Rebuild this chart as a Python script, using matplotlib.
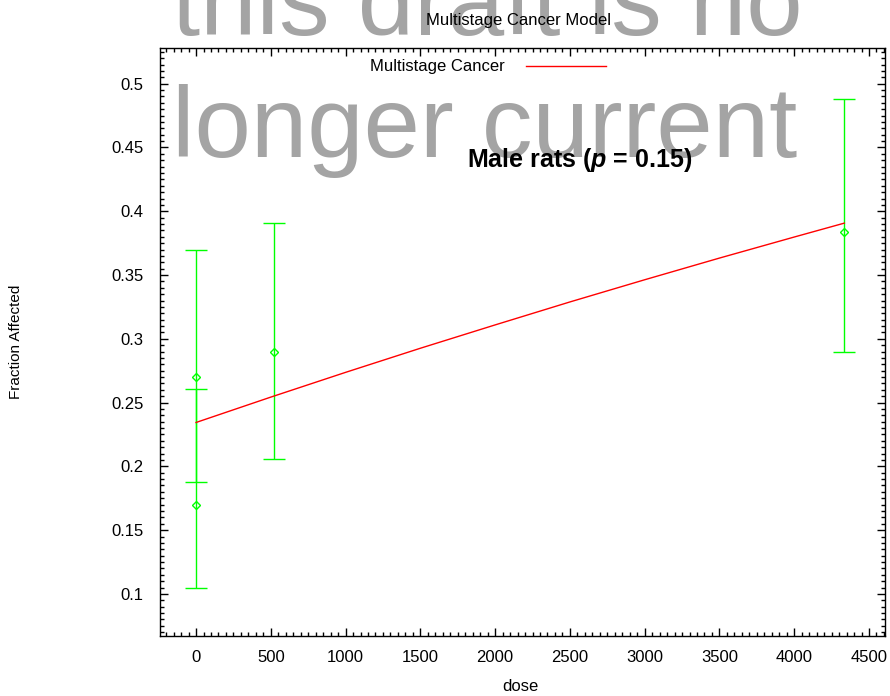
import matplotlib
matplotlib.use("Agg")
import matplotlib.pyplot as plt
from matplotlib.lines import Line2D
from matplotlib.ticker import MultipleLocator

# ---- data ----
dose = [0, 0, 519, 4335]
frac = [0.270, 0.170, 0.290, 0.384]
err_low = [0.188, 0.105, 0.206, 0.290]
err_high = [0.370, 0.261, 0.391, 0.488]

model_dose = [0, 500, 1000, 1500, 2000, 2500, 3000, 3500, 4000, 4335]
model_frac = [0.2344, 0.2543, 0.2737, 0.2926, 0.3109, 0.3289, 0.3463, 0.3633, 0.3798, 0.3907]

x_ticks = [0, 500, 1000, 1500, 2000, 2500, 3000, 3500, 4000, 4500]
y_ticks = [0.1, 0.15, 0.2, 0.25, 0.3, 0.35, 0.4, 0.45, 0.5]

title = "Multistage Cancer Model"
legend_label = "Multistage Cancer"
note = "Male rats ($p$ = 0.15)"
watermark1 = "this draft is no"
watermark2 = "longer current"

plt.rcParams['font.family'] = ['Liberation Sans', 'DejaVu Sans']
plt.rcParams['mathtext.fontset'] = 'custom'
plt.rcParams['mathtext.it'] = 'Liberation Sans:italic:bold'
plt.rcParams['mathtext.rm'] = 'Liberation Sans:bold'

W, H = 890, 696

fig = plt.figure(figsize=(W / 100, H / 100), dpi=100)
ax = fig.add_axes([160 / W, 1 - 636 / H, 725 / W, 588 / H])
ax.patch.set_visible(False)

# watermark behind everything
for txt, cx, base in [(watermark1, 487, 35), (watermark2, 485, 157)]:
    fig.text(cx / W, 1 - base / H, txt, ha='center', va='baseline',
             fontsize=73, color='#a4a4a4', zorder=-5)

yerr = [[f - lo for f, lo in zip(frac, err_low)],
        [hi - f for f, hi in zip(frac, err_high)]]
ax.errorbar(dose, frac, yerr=yerr, fmt='D', color='#00ff00', ecolor='#00ff00',
            elinewidth=1, capsize=8, capthick=1, markersize=3.8,
            markerfacecolor='none', markeredgewidth=1, zorder=3)
ax.plot(model_dose, model_frac, color='#ff0000', lw=1, zorder=4)

ax.set_xlim(-241, 4607)
ax.set_ylim(0.067, 0.528)
ax.set_xticks(x_ticks)
ax.set_yticks(y_ticks)
ax.set_xticklabels([str(t) for t in x_ticks])
ax.set_yticklabels([f"{t:g}" for t in y_ticks])
ax.xaxis.set_minor_locator(MultipleLocator(50))
ax.yaxis.set_minor_locator(MultipleLocator(0.005))
ax.tick_params(which='both', direction='in', top=True, right=True, width=1)
ax.tick_params(which='major', length=6, labelsize=12)
ax.tick_params(axis='y', which='major', pad=12)
ax.tick_params(axis='x', which='major', pad=10)
ax.tick_params(which='minor', length=3)
for s in ax.spines.values():
    s.set_linewidth(1)

ax.set_xlabel('dose', fontsize=12)
ax.set_ylabel('Fraction Affected', fontsize=11)
ax.xaxis.set_label_coords(0.497, -0.073)
ax.yaxis.set_label_coords(-0.189, 0.5)

fig.text(519 / W, 1 - 21 / H, title, ha='center', va='center', fontsize=12)

handle = Line2D([], [], color='#ff0000', lw=1)
fig.legend([handle], [legend_label], loc='center',
           bbox_to_anchor=(488 / W, 1 - 67 / H), frameon=False,
           markerfirst=False, fontsize=12, handlelength=4.8,
           handletextpad=1.3, borderpad=0, borderaxespad=0)

fig.text(580 / W, 1 - 160 / H, note, ha='center', va='center',
         fontsize=18, fontweight='bold')

fig.savefig('out.png', dpi=100)
